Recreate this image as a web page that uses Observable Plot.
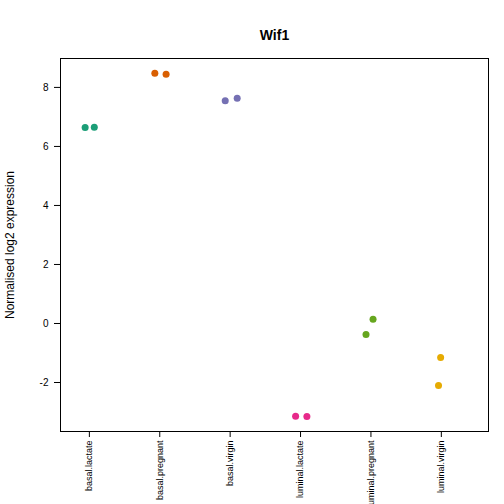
<!DOCTYPE html>
<html><head>
<meta charset="utf-8">
<script src="https://cdn.jsdelivr.net/npm/d3@7"></script>
<script src="https://cdn.jsdelivr.net/npm/@observablehq/plot@0.6"></script>
<style>body{margin:0;background:#fff;font-family:"Liberation Sans",Arial,sans-serif}</style>
</head><body><div id="c"></div>
<script>
const categories = ["basal.lactate","basal.pregnant","basal.virgin","luminal.lactate","luminal.pregnant","luminal.virgin"];
const colors = ["#1B9E77","#D95F02","#7570B3","#E7298A","#66A61E","#E6AB02"];
const groupIndex = [0,0,1,1,2,2,3,3,4,4,5,5];
const jitter = [-0.06,0.07,-0.07,0.09,-0.07,0.1,-0.07,0.09,-0.07,0.03,-0.01,-0.04];
const values = [6.64,6.65,8.48,8.45,7.55,7.63,-3.14,-3.15,-0.37,0.14,-1.15,-2.1];
const data = values.map((v,i)=>({x:groupIndex[i]+1+jitter[i], y:v, c:colors[groupIndex[i]]}));
const plot = Plot.plot({
  width:504, height:504, marginLeft:60, marginRight:16, marginTop:58, marginBottom:73,
  style:{fontFamily:"Liberation Sans, Arial, sans-serif", fontSize:"10px", background:"#fff"},
  x:{domain:[0.59,6.67], label:null},
  y:{domain:[-3.66,8.98], label:null},
  marks:[
    Plot.frame({stroke:"black"}),
    Plot.axisX({ticks:[1,2,3,4,5,6], tickFormat:d=>categories[d-1], tickRotate:-90, tickSize:6, tickPadding:3, fontSize:9, stroke:"black"}),
    Plot.axisY({ticks:[-2,0,2,4,6,8], tickFormat:d=>String(d).replace("-","-"), tickSize:6, tickPadding:6, fontSize:10, stroke:"black"}),
    Plot.dot(data,{x:"x",y:"y",fill:"c",r:3.5,stroke:null}),
    Plot.text(["Wif1"],{frameAnchor:"top",dy:-28,fontWeight:"bold",fontSize:14}),
    Plot.text(["Normalised log2 expression"],{frameAnchor:"left",dx:-50,rotate:-90,textAnchor:"middle",fontSize:12})
  ]
});
document.getElementById("c").appendChild(plot);
</script></body></html>
